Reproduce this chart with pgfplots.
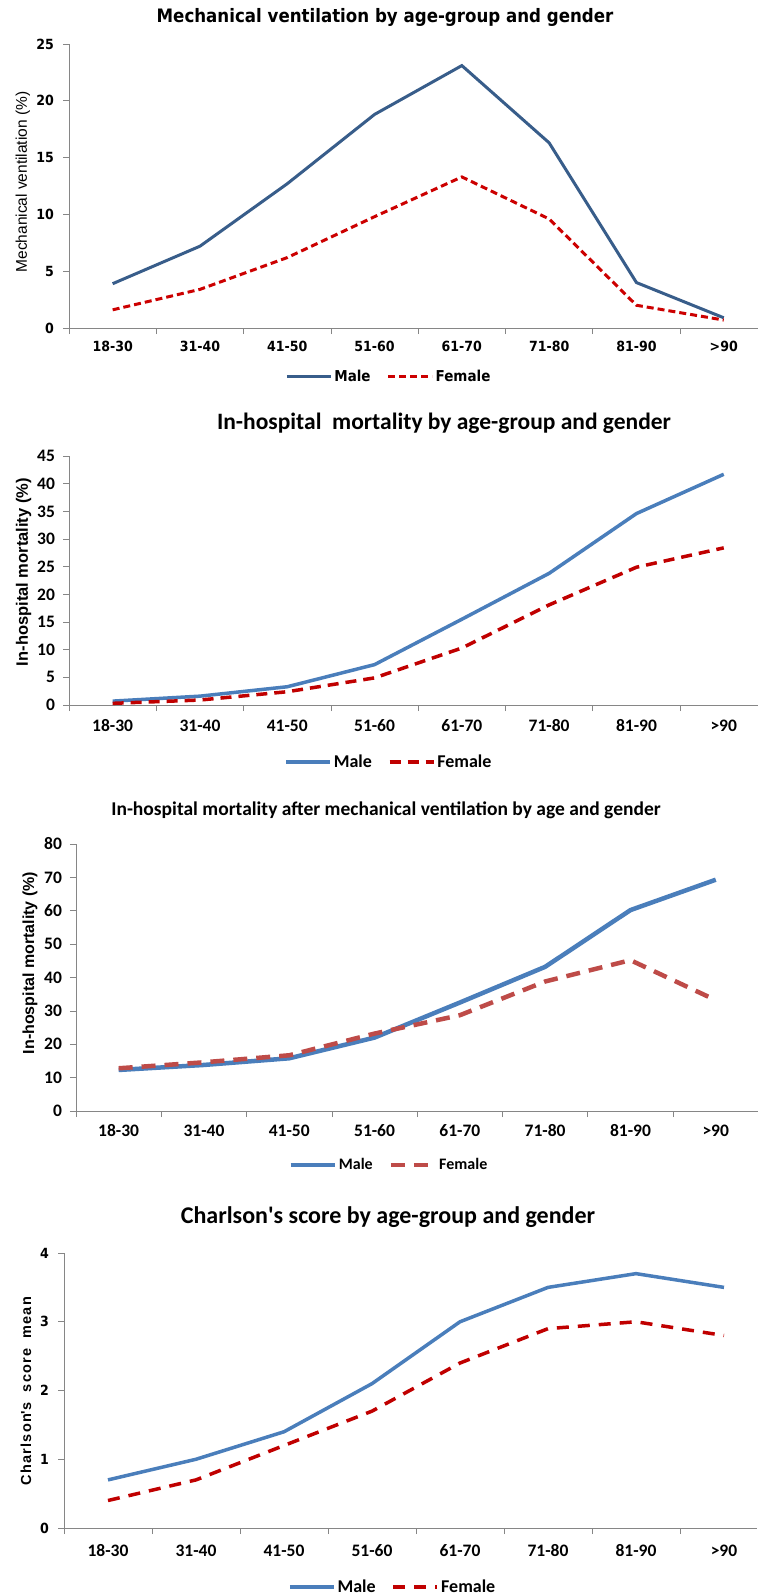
\documentclass[border=0pt]{standalone}
\usepackage{pgfplots}
\pgfplotsset{compat=1.18}
\usepackage{fontspec}
\setmainfont{Carlito}
\newfontfamily\tah{DejaVu Sans}[FakeStretch=0.9]
\newfontfamily\ari{Liberation Sans}
\newfontfamily\arisp{Liberation Sans}[LetterSpace=8]
\definecolor{axgray}{HTML}{868686}
\definecolor{mblueA}{HTML}{385D8A}
\definecolor{mblue}{HTML}{4A7EBB}
\definecolor{fred}{HTML}{C00000}
\definecolor{fredA}{HTML}{CC0000}
\definecolor{fredC}{HTML}{BE4B48}
\newcommand{\fs}[1]{\fontsize{#1}{#1}\selectfont}

\pgfplotsset{
 cat/.style={
  scale only axis, anchor=south west,
  axis x line*=bottom, axis y line*=left,
  axis line style={draw=axgray, line width=0.75pt},
  xmin=-0.5, ymin=0,
  xtick={0,...,7},
  xticklabels={18-30,31-40,41-50,51-60,61-70,71-80,81-90,>90},
  minor xtick={-0.5,0.5,...,7.5},
  tick align=outside,
  major tick length=6pt, minor tick length=6pt,
  tick style={draw=axgray, line width=0.75pt},
  major x tick style={draw=none},
  /pgf/number format/assume math mode=true,
  legend columns=2,
  legend cell align=left,
  legend style={draw=none, fill=none, anchor=center, column sep=0pt, nodes={inner sep=2pt}},
  /tikz/every even column/.append style={column sep=14pt},
  legend image code/.code={\draw[##1] (0pt,0pt) -- (44pt,0pt);},
  ylabel style={rotate=0, anchor=center},
 }
}

\begin{document}
\begin{tikzpicture}
\path[use as bounding box] (0pt,0pt) rectangle (758pt,-1595pt);

% ---------- Panel 1 ----------
\node[font=\tah\bfseries\fs{18.5}] at (385pt,-17pt) {Mechanical ventilation by age-group and gender};
\begin{axis}[cat, at={(69pt,-328pt)}, x=87.3pt, y=11.36pt, xmax=7.39, ymax=25,
  ytick={0,5,...,25},
  xticklabel style={font=\tah\bfseries\fs{14}, yshift=-3.5pt},
  yticklabel style={font=\tah\bfseries\fs{14}, xshift=-5.5pt},
  ylabel={Mechanical ventilation (\%)},
  ylabel style={font=\ari\fs{15.5}, at={(axis description cs:-0.0668,0.514)}},
  legend style={at={(axis description cs:0.4644,-0.1725)}, font=\tah\bfseries\fs{15}},
]
\addplot[mblueA, line width=3pt] coordinates {(0,3.9) (1,7.2) (2,12.7) (3,18.8) (4,23.1) (5,16.3) (6,4.0) (7,0.9)};
\addlegendentry{Male}
\addplot[fredA, line width=3pt, dash pattern=on 7pt off 4pt] coordinates {(0,1.6) (1,3.4) (2,6.2) (3,9.8) (4,13.3) (5,9.6) (6,2.0) (7,0.7)};
\addlegendentry{Female}
\end{axis}

% ---------- Panel 2 ----------
\node[font=\bfseries\fs{23.5}] at (444pt,-423pt) {In-hospital\ \ mortality by age-group and gender};
\begin{axis}[cat, at={(69pt,-705pt)}, x=87.3pt, y=5.533pt, xmax=7.39, ymax=45,
  ytick={0,5,...,45},
  xticklabel style={font=\bfseries\fs{17.5}, yshift=-5pt},
  yticklabel style={font=\bfseries\fs{17.5}, xshift=-4.5pt},
  ylabel={In-hospital mortality (\%)},
  ylabel style={font=\ari\bfseries\fs{16.5}, at={(axis description cs:-0.066,0.534)}},
  legend style={at={(axis description cs:0.4644,-0.229)}, font=\bfseries\fs{18}},
]
\addplot[mblue, line width=3.5pt] coordinates {(0,0.7) (1,1.6) (2,3.3) (3,7.3) (4,15.5) (5,23.8) (6,34.6) (7,41.7)};
\addlegendentry{Male}
\addplot[fred, line width=3.5pt, dash pattern=on 11pt off 7pt] coordinates {(0,0.3) (1,0.9) (2,2.4) (3,4.9) (4,10.3) (5,18.1) (6,24.9) (7,28.4)};
\addlegendentry{Female}
\end{axis}

% ---------- Panel 3 ----------
\node[font=\bfseries\fs{19.5}] at (386pt,-810pt) {In-hospital mortality after mechanical ventilation by age and gender};
\begin{axis}[cat, at={(76pt,-1111pt)}, x=85.3pt, y=3.3375pt, xmax=7.49, ymax=80,
  ytick={0,10,...,80},
  xticklabel style={font=\bfseries\fs{17.5}, yshift=-4pt},
  yticklabel style={font=\bfseries\fs{17.5}, xshift=-4.5pt},
  ylabel={In-hospital mortality (\%)},
  ylabel style={font=\ari\bfseries\fs{16}, at={(axis description cs:-0.0674,0.554)}},
  legend style={at={(axis description cs:0.459,-0.2022)}, font=\bfseries\fs{16}},
]
\addplot[mblue, line width=4.5pt] coordinates {(0,12.3) (1,13.8) (2,15.8) (3,22.0) (4,32.5) (5,43.2) (6,60.2) (7,69.3)};
\addlegendentry{Male}
\addplot[fredC, line width=4.5pt, dash pattern=on 14pt off 9pt] coordinates {(0,12.8) (1,14.6) (2,16.7) (3,23.2) (4,28.7) (5,38.8) (6,45.2) (7,33.2)};
\addlegendentry{Female}
\end{axis}

% ---------- Panel 4 ----------
\node[font=\bfseries\fs{24}] at (388pt,-1217pt) {Charlson\textquotesingle s score by age-group and gender};
\begin{axis}[cat, at={(64pt,-1528pt)}, x=88pt, y=68.75pt, xmax=7.38, ymax=4,
  ytick={0,1,...,4},
  xticklabel style={font=\bfseries\fs{17.5}, yshift=-7pt},
  yticklabel style={font=\tah\bfseries\fs{14}, xshift=-5.5pt},
  ylabel={Charlson\textquotesingle s\ \ score\ \ mean},
  ylabel style={font=\arisp\bfseries\fs{14.5}, at={(axis description cs:-0.0548,0.498)}},
  legend style={at={(axis description cs:0.474,-0.2145)}, font=\bfseries\fs{18}},
]
\addplot[mblue, line width=3.5pt] coordinates {(0,0.7) (1,1.0) (2,1.4) (3,2.1) (4,3.0) (5,3.5) (6,3.7) (7,3.5)};
\addlegendentry{Male}
\addplot[fred, line width=3.5pt, dash pattern=on 12pt off 9pt] coordinates {(0,0.4) (1,0.7) (2,1.2) (3,1.7) (4,2.4) (5,2.9) (6,3.0) (7,2.8)};
\addlegendentry{Female}
\end{axis}
\end{tikzpicture}
\end{document}
